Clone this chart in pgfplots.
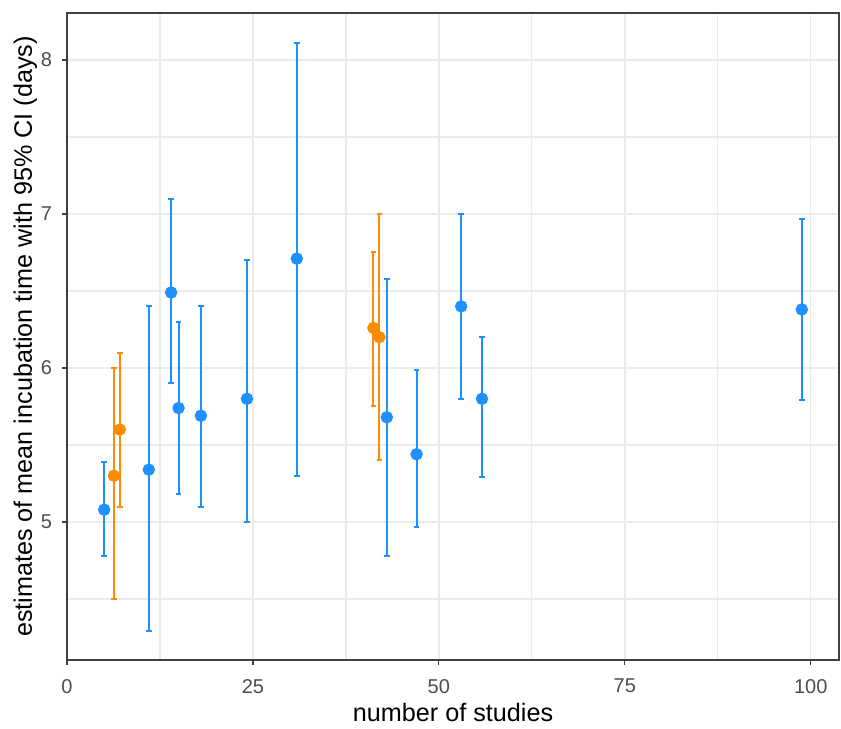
\documentclass[border=0pt]{standalone}
\usepackage{pgfplots}
\pgfplotsset{compat=1.18}
\usepackage{fontspec}
\setmainfont{Liberation Sans}
\definecolor{cblue}{HTML}{1E90FF}
\definecolor{corange}{HTML}{FF8C00}
\definecolor{gridc}{HTML}{EBEBEB}
\definecolor{tickc}{HTML}{4D4D4D}
\begin{document}
\begin{tikzpicture}
\begin{axis}[
  scale only axis,
  width=386pt, height=323.5pt,
  xmin=0, xmax=103.8, ymin=4.104, ymax=8.305,
  xtick={0,25,50,75,100},
  ytick={5,6,7,8},
  minor xtick={12.5,37.5,62.5,87.5},
  minor ytick={4.5,5.5,6.5,7.5},
  grid=both,
  major grid style={gridc, line width=0.7pt},
  minor grid style={gridc, line width=0.6pt},
  axis line style={black!75, line width=0.8pt},
  tick align=outside,
  major tick length=2.5pt,
  minor tick length=0pt,
  tick style={black!75, line width=0.6pt},
  xtick pos=bottom, ytick pos=left,
  /pgf/number format/assume math mode=true,
  ticklabel style={font=\fontsize{10}{12}\selectfont, text=tickc},
  xticklabel style={yshift=-3.5pt},
  yticklabel style={xshift=-1.5pt},
  xlabel={number of studies},
  ylabel={estimates of mean incubation time with 95\% CI (days)},
  label style={font=\fontsize{12.6}{15}\selectfont},
  xlabel style={yshift=2pt},
  ylabel style={yshift=-5pt},
  axis background/.style={fill=white},
]
\addplot[only marks, color=cblue, mark=*, mark size=2.6pt, line width=1pt,
  error bars/.cd, y dir=both, y explicit,
  error bar style={line width=1pt, color=cblue},
  error mark options={rotate=90, mark size=1.4pt, line width=1pt, color=cblue}]
coordinates {
  (5.0,5.08) += (0,0.31) -= (0,0.30)
  (11.0,5.34) += (0,1.06) -= (0,1.05)
  (14.0,6.49) += (0,0.61) -= (0,0.59)
  (15.0,5.74) += (0,0.56) -= (0,0.56)
  (18.0,5.69) += (0,0.71) -= (0,0.59)
  (24.2,5.80) += (0,0.90) -= (0,0.80)
  (30.9,6.71) += (0,1.40) -= (0,1.41)
  (43.0,5.68) += (0,0.90) -= (0,0.90)
  (47.0,5.44) += (0,0.55) -= (0,0.47)
  (53.0,6.40) += (0,0.60) -= (0,0.60)
  (55.8,5.80) += (0,0.40) -= (0,0.51)
  (98.8,6.38) += (0,0.59) -= (0,0.59)
};
\addplot[only marks, color=corange, mark=*, mark size=2.6pt, line width=1pt,
  error bars/.cd, y dir=both, y explicit,
  error bar style={line width=1pt, color=corange},
  error mark options={rotate=90, mark size=1.4pt, line width=1pt, color=corange}]
coordinates {
  (6.3,5.30) += (0,0.70) -= (0,0.80)
  (7.1,5.60) += (0,0.50) -= (0,0.50)
  (41.2,6.26) += (0,0.49) -= (0,0.51)
  (42.0,6.20) += (0,0.80) -= (0,0.80)
};
\end{axis}
\path (current axis.south west) ++(-33.5pt,-31pt);
\path (current axis.north east) ++(1pt,6.5pt);
\end{tikzpicture}
\end{document}
